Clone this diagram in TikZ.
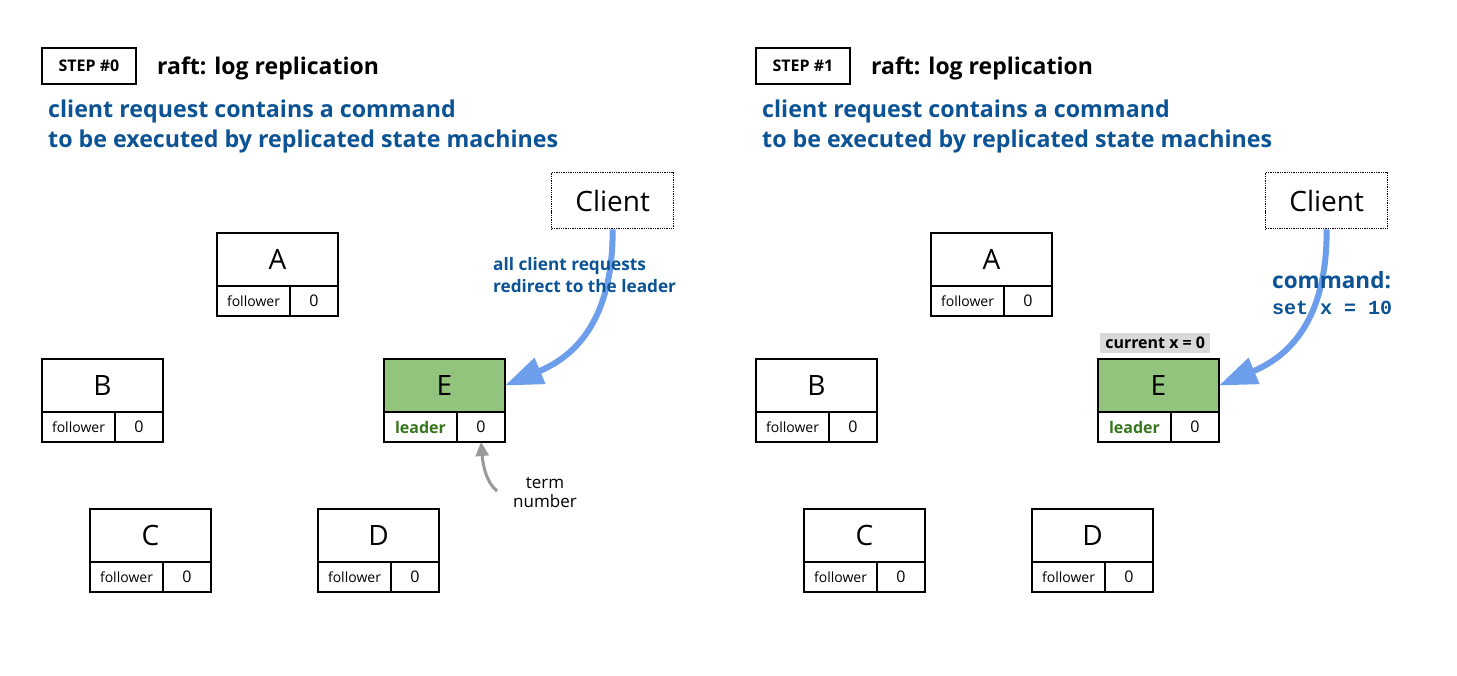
\documentclass[tikz,border=0pt]{standalone}
\usepackage{fontspec}
\setmainfont{Open Sans}
\setmonofont{Liberation Mono}
\usetikzlibrary{arrows.meta}
\definecolor{dblue}{HTML}{0B5394}
\definecolor{lblue}{HTML}{6D9EEB}
\definecolor{lgreen}{HTML}{93C47D}
\definecolor{dgreen}{HTML}{38761D}
\definecolor{lgray}{HTML}{D9D9D9}
\definecolor{mgray}{HTML}{999999}
\tikzset{
  box/.style={draw, line width=1.3bp, inner sep=0pt, outer sep=0pt, anchor=north west},
  topbox/.style={box, minimum width=121bp, minimum height=53bp, font=\fontsize{28bp}{30bp}\selectfont},
  rolebox/.style={box, minimum width=73bp, minimum height=30bp, font=\fontsize{14bp}{16bp}\selectfont},
  termbox/.style={box, minimum width=48bp, minimum height=30bp, font=\fontsize{16bp}{18bp}\selectfont},
  leadertop/.style={fill=lgreen},
  plain/.style={},
  clientbox/.style={draw, densely dotted, line width=1.3bp, minimum width=122bp, minimum height=56bp, inner sep=0pt, anchor=north west, font=\fontsize{28bp}{30bp}\selectfont},
  stepbox/.style={draw, line width=1.3bp, minimum width=94bp, minimum height=36bp, inner sep=0pt, font=\bfseries\fontsize{16bp}{18bp}\selectfont},
  titletext/.style={anchor=base west, inner sep=0pt, font=\bfseries\fontsize{23bp}{25bp}\selectfont},
  bluetext/.style={anchor=base west, inner sep=0pt, text=dblue, font=\bfseries\fontsize{23.2bp}{25bp}\selectfont},
  smallblue/.style={anchor=base west, inner sep=0pt, text=dblue, font=\bfseries\fontsize{17.2bp}{19bp}\selectfont},
  bigarrow/.style={lblue, line width=6bp, -{Triangle[length=38bp,width=27bp]}},
  grayarrow/.style={mgray, line width=3bp, -{Triangle[length=14bp,width=13bp]}},
}
\newcommand\srvbox[7]{% name, x, y, letter, role text, top style, role style
  \node[topbox,#6] (#1) at (#2,#3) {#4};
  \node[rolebox,#7] (#1-r) at (#1.south west) {#5};
  \node[termbox] (#1-t) at (#1-r.north east) {0};
}
\begin{document}
\begin{tikzpicture}[x=1bp,y=-1bp]
\useasboundingbox[fill=white] (0,0) rectangle (1457,676);
\foreach \dx/\n in {0/0,714/1}{
\begin{scope}[xshift=\dx bp]
  \node[stepbox] (step\n) at (89,66) {STEP \#\n};
  \node[titletext] (title\n) at (157,75) {raft: log replication};
  \node[bluetext] (desc\n a) at (48,118) {client request contains a command};
  \node[bluetext] (desc\n b) at (48,147) {to be executed by replicated state machines};
  \node[clientbox] (client\n) at (551,172) {Client};
  \srvbox{A\n}{217}{233}{A}{follower}{plain}{}
  \srvbox{B\n}{42}{359}{B}{follower}{plain}{}
  \srvbox{C\n}{90}{509}{C}{follower}{plain}{}
  \srvbox{D\n}{318}{509}{D}{follower}{plain}{}
  \srvbox{E\n}{384}{359}{E}{leader}{leadertop}{text=dgreen, font=\bfseries\fontsize{16bp}{18bp}\selectfont}
\end{scope}
}
% left panel annotations
\draw[bigarrow] (client0.south) .. controls (613,300) and (590,350) .. (E0.east);
\node[smallblue] (redir1) at (493,270) {all client requests};
\node[smallblue] (redir2) at (493,292) {redirect to the leader};
\coordinate (termstart) at (497,491);
\draw[grayarrow] (termstart) .. controls (486,482) and (483,465) .. (E0-t.south);
\node[anchor=base, inner sep=0pt, font=\fontsize{17bp}{19bp}\selectfont] (term1) at (545,488) {term};
\node[anchor=base, inner sep=0pt, font=\fontsize{17bp}{19bp}\selectfont] (term2) at (545,507) {number};
% right panel annotations
\draw[bigarrow] (client1.south) .. controls (1327,300) and (1304,350) .. (E1.east);
\node[anchor=base west, inner sep=0pt, text=dblue, font=\bfseries\fontsize{22.5bp}{24bp}\selectfont] (cmd) at (1272,288) {command:};
\node[anchor=base west, inner sep=0pt, text=dblue, font=\ttfamily\bfseries\fontsize{20bp}{22bp}\selectfont] (cmdval) at (1272,314) {set x = 10};
\node[fill=lgray, inner sep=0pt, minimum width=110bp, minimum height=20bp, anchor=north west, font=\bfseries\fontsize{16bp}{18bp}\selectfont] (cur) at (1100,333) {current x = 0};
\end{tikzpicture}
\end{document}
